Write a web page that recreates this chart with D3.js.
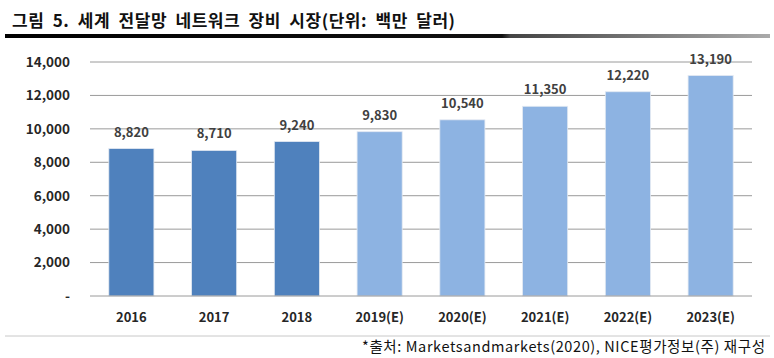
<!DOCTYPE html>
<html><head><meta charset="utf-8">
<script src="https://cdn.jsdelivr.net/npm/d3@7"></script>
<style>html,body{margin:0;padding:0;background:#fff;}svg{display:block;}</style>
</head><body><svg id="c" width="774" height="358"></svg>
<script>
const categories = ["2016","2017","2018","2019(E)","2020(E)","2021(E)","2022(E)","2023(E)"];
const values = [8820,8710,9240,9830,10540,11350,12220,13190];
const estimated = [false,false,false,true,true,true,true,true];
const yTicks = [0,2000,4000,6000,8000,10000,12000,14000];
const titleText = "그림 5. 세계 전달망 네트워크 장비 시장(단위: 백만 달러)";
const sourceText = "*출처: Marketsandmarkets(2020), NICE평가정보(주) 재구성";

const svg = d3.select("#c");
const font = "'Noto Sans CJK KR','Noto Sans',sans-serif";
const defs = svg.append("defs");
const grad = defs.append("linearGradient").attr("id","rule").attr("x1","0%").attr("x2","100%");
grad.append("stop").attr("offset","0%").attr("stop-color","#000");
grad.append("stop").attr("offset","65%").attr("stop-color","#111");
grad.append("stop").attr("offset","66%").attr("stop-color","#444");
grad.append("stop").attr("offset","100%").attr("stop-color","#aaa");

svg.append("text").attr("x",12).attr("y",27).attr("font-family",font).attr("font-weight","bold")
  .attr("font-size",17).attr("fill","#111").attr("word-spacing",4)
  .attr("textLength",443).attr("lengthAdjust","spacing").text(titleText);
svg.append("rect").attr("x",5).attr("y",34).attr("width",765).attr("height",4).attr("fill","url(#rule)");

const x = d3.scaleBand().domain(categories).range([90,752]).paddingInner(0.455).paddingOuter(0.2275);
const y = d3.scaleLinear().domain([0,14000]).range([296,62]);

const grid = svg.append("g");
grid.selectAll("line").data(yTicks.filter(d=>d>0)).join("line")
  .attr("x1",90).attr("x2",752).attr("y1",d=>y(d)).attr("y2",d=>y(d))
  .attr("stroke","#9a9a9a").attr("stroke-width",1);

const yAxis = svg.append("g").attr("transform","translate(76,0)")
  .call(d3.axisLeft(y).tickValues(yTicks).tickSize(0).tickPadding(0)
    .tickFormat(d=>d===0?"-":d3.format(",")(d)));
yAxis.select(".domain").remove();
yAxis.selectAll("text").attr("font-family",font).attr("font-weight","bold").attr("font-size",13.5).attr("fill","#262626").attr("x",-6);

svg.selectAll("rect.bar").data(values).join("rect").attr("class","bar")
  .attr("x",(d,i)=>x(categories[i])).attr("width",x.bandwidth())
  .attr("y",d=>y(d)).attr("height",d=>y(0)-y(d))
  .attr("fill",(d,i)=>estimated[i]?"#8db3e2":"#4f81bd")
  .attr("stroke","#e3e9f2").attr("stroke-width",0.8);

svg.append("line").attr("x1",90).attr("x2",752).attr("y1",y(0)).attr("y2",y(0)).attr("stroke","#9a9a9a");

svg.selectAll("text.lbl").data(values).join("text").attr("class","lbl")
  .attr("x",(d,i)=>x(categories[i])+x.bandwidth()/2).attr("y",d=>y(d)-12)
  .attr("text-anchor","middle").attr("font-family",font).attr("font-weight","bold")
  .attr("font-size",13).attr("fill","#404040").text(d=>d3.format(",")(d));

const xAxis = svg.append("g").attr("transform","translate(0,296)")
  .call(d3.axisBottom(x).tickSize(0).tickPadding(0));
xAxis.select(".domain").remove();
xAxis.selectAll("text").attr("font-family",font).attr("font-weight","bold").attr("font-size",13)
  .attr("fill","#262626").attr("dy",0).attr("y",26);

svg.append("line").attr("x1",5).attr("x2",770).attr("y1",336).attr("y2",336).attr("stroke","#c8c8c8").attr("stroke-width",1);
svg.append("text").attr("x",765).attr("y",352).attr("text-anchor","end").attr("font-family",font)
  .attr("font-size",14.5).attr("fill","#111")
  .attr("textLength",403).attr("lengthAdjust","spacing").text(sourceText);
</script></body></html>
